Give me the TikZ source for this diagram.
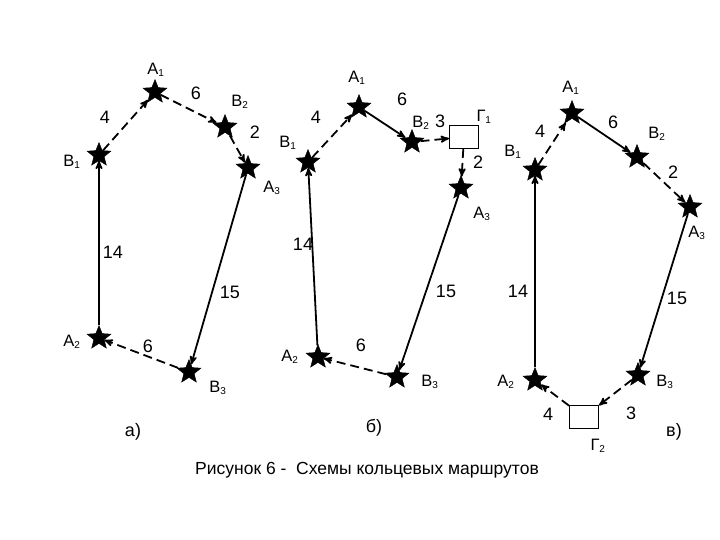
\documentclass[tikz,border=0pt]{standalone}
\usepackage{fontspec}
\setmainfont{Liberation Sans}
\usetikzlibrary{shapes.geometric}
\usetikzlibrary{arrows}
\tikzset{
	node_star/.style = {
		star,
		star points=5,
		star point ratio=2.3,
		draw=black,
		fill=black,
		inner sep=0pt,
		minimum size=25pt
	},
	node_box/.style = {
		rectangle,
		draw=black,
		fill=white,
		line width=1pt,
		inner sep=0pt,
		minimum width=29pt,
		minimum height=23pt
	},
	node_lbl/.style = {
		inner sep=0pt,
		font=\fontsize{16.5}{18}\selectfont
	},
	node_num/.style = {
		node_lbl,
		font=\fontsize{18}{20}\selectfont
	},
	edge_solid/.style = {
		->,
		>=stealth',
		line width=1.8pt
	},
	edge_dash/.style = {
		edge_solid,
		dash pattern=on 9pt off 5pt
	},
}
\newcommand{\sbs}[2]{#1\textsubscript{\fontsize{10}{11}\selectfont #2}}

\begin{document}
\begin{tikzpicture}[x=1pt,y=-1pt]
\useasboundingbox (0,0) rectangle (720,540);
% а)
\node [node_star] (a_A1) at (155,92) {};
\node [node_star] (a_B2) at (225,127) {};
\node [node_star] (a_A3) at (248,168) {};
\node [node_star] (a_B1) at (99,155) {};
\node [node_star] (a_A2) at (99,338) {};
\node [node_star] (a_B3) at (189,372) {};
\node [node_lbl] (a_A1_t) at (156,70) {\sbs{А}{1}};
\node [node_lbl] (a_B2_t) at (240,102) {\sbs{В}{2}};
\node [node_lbl] (a_A3_t) at (272,188) {\sbs{А}{3}};
\node [node_lbl] (a_B1_t) at (72,162) {\sbs{В}{1}};
\node [node_lbl] (a_A2_t) at (72,342) {\sbs{А}{2}};
\node [node_lbl] (a_B3_t) at (218,388) {\sbs{В}{3}};
\draw [edge_dash] (a_B1) -- (a_A1);
\draw [edge_dash] (a_A1) -- (a_B2);
\draw [edge_dash] (a_B2) -- (a_A3);
\draw [edge_solid] (a_A3) -- (a_B3);
\draw [edge_dash] (a_B3) -- (a_A2);
\draw [edge_solid] (a_A2) -- (a_B1);
\node [node_num] (a_n1) at (105,117) {4};
\node [node_num] (a_n2) at (196,93) {6};
\node [node_num] (a_n3) at (255,132) {2};
\node [node_num] (a_n4) at (230,292) {15};
\node [node_num] (a_n5) at (148,346) {6};
\node [node_num] (a_n6) at (113,252) {14};
\node [node_num] (a_cap) at (133,432) {а)};
% б)
\node [node_star] (b_A1) at (359,107) {};
\node [node_star] (b_B2) at (412,142) {};
\node [node_box] (b_G1) at (464,137) {};
\node [node_star] (b_A3) at (461,188) {};
\node [node_star] (b_B1) at (308,162) {};
\node [node_star] (b_A2) at (318,357) {};
\node [node_star] (b_B3) at (397,377) {};
\node [node_lbl] (b_A1_t) at (357,78) {\sbs{А}{1}};
\node [node_lbl] (b_B2_t) at (421,123) {\sbs{В}{2}};
\node [node_lbl] (b_G1_t) at (484,117) {\sbs{Г}{1}};
\node [node_lbl] (b_A3_t) at (482,214) {\sbs{А}{3}};
\node [node_lbl] (b_B1_t) at (288,143) {\sbs{В}{1}};
\node [node_lbl] (b_A2_t) at (290,357) {\sbs{А}{2}};
\node [node_lbl] (b_B3_t) at (430,382) {\sbs{В}{3}};
\draw [edge_dash] (b_B1) -- (b_A1);
\draw [edge_solid] (b_A1) -- (b_B2);
\draw [edge_dash] (b_B2) -- (b_G1);
\draw [edge_dash] (b_G1) -- (b_A3);
\draw [edge_solid] (b_A3) -- (b_B3);
\draw [edge_dash] (b_B3) -- (b_A2);
\draw [edge_solid] (b_A2) -- (b_B1);
\node [node_num] (b_n1) at (316,117) {4};
\node [node_num] (b_n2) at (402,99) {6};
\node [node_num] (b_n3) at (440,121) {3};
\node [node_num] (b_n4) at (478,162) {2};
\node [node_num] (b_n5) at (446,291) {15};
\node [node_num] (b_n6) at (361,345) {6};
\node [node_num] (b_n7) at (303,244) {14};
\node [node_num] (b_cap) at (374,428) {б)};
% в)
\node [node_star] (c_A1) at (572,113) {};
\node [node_star] (c_B2) at (637,157) {};
\node [node_star] (c_A3) at (690,207) {};
\node [node_star] (c_B1) at (535,170) {};
\node [node_star] (c_A2) at (535,380) {};
\node [node_star] (c_B3) at (638,375) {};
\node [node_box] (c_G2) at (584,417) {};
\node [node_lbl] (c_A1_t) at (571,88) {\sbs{А}{1}};
\node [node_lbl] (c_B2_t) at (657,134) {\sbs{В}{2}};
\node [node_lbl] (c_A3_t) at (697,233) {\sbs{А}{3}};
\node [node_lbl] (c_B1_t) at (513,152) {\sbs{В}{1}};
\node [node_lbl] (c_A2_t) at (506,382) {\sbs{А}{2}};
\node [node_lbl] (c_B3_t) at (665,382) {\sbs{В}{3}};
\node [node_lbl] (c_G2_t) at (598,446) {\sbs{Г}{2}};
\draw [edge_dash] (c_B1) -- (c_A1);
\draw [edge_solid] (c_A1) -- (c_B2);
\draw [edge_dash] (c_B2) -- (c_A3);
\draw [edge_solid] (c_A3) -- (c_B3);
\draw [edge_dash] (c_B3) -- (c_G2);
\draw [edge_dash] (c_G2) -- (c_A2);
\draw [edge_solid] (c_A2) -- (c_B1);
\node [node_num] (c_n1) at (540,131) {4};
\node [node_num] (c_n2) at (613,122) {6};
\node [node_num] (c_n3) at (673,172) {2};
\node [node_num] (c_n4) at (677,298) {15};
\node [node_num] (c_n5) at (631,413) {3};
\node [node_num] (c_n6) at (548,414) {4};
\node [node_num] (c_n7) at (518,291) {14};
\node [node_num] (c_cap) at (674,432) {в)};
\node [node_lbl, font=\fontsize{17.5}{20}\selectfont] (fig_cap) at (367,470) {Рисунок 6 -\ \ Схемы кольцевых маршрутов};
\end{tikzpicture}
\end{document}
